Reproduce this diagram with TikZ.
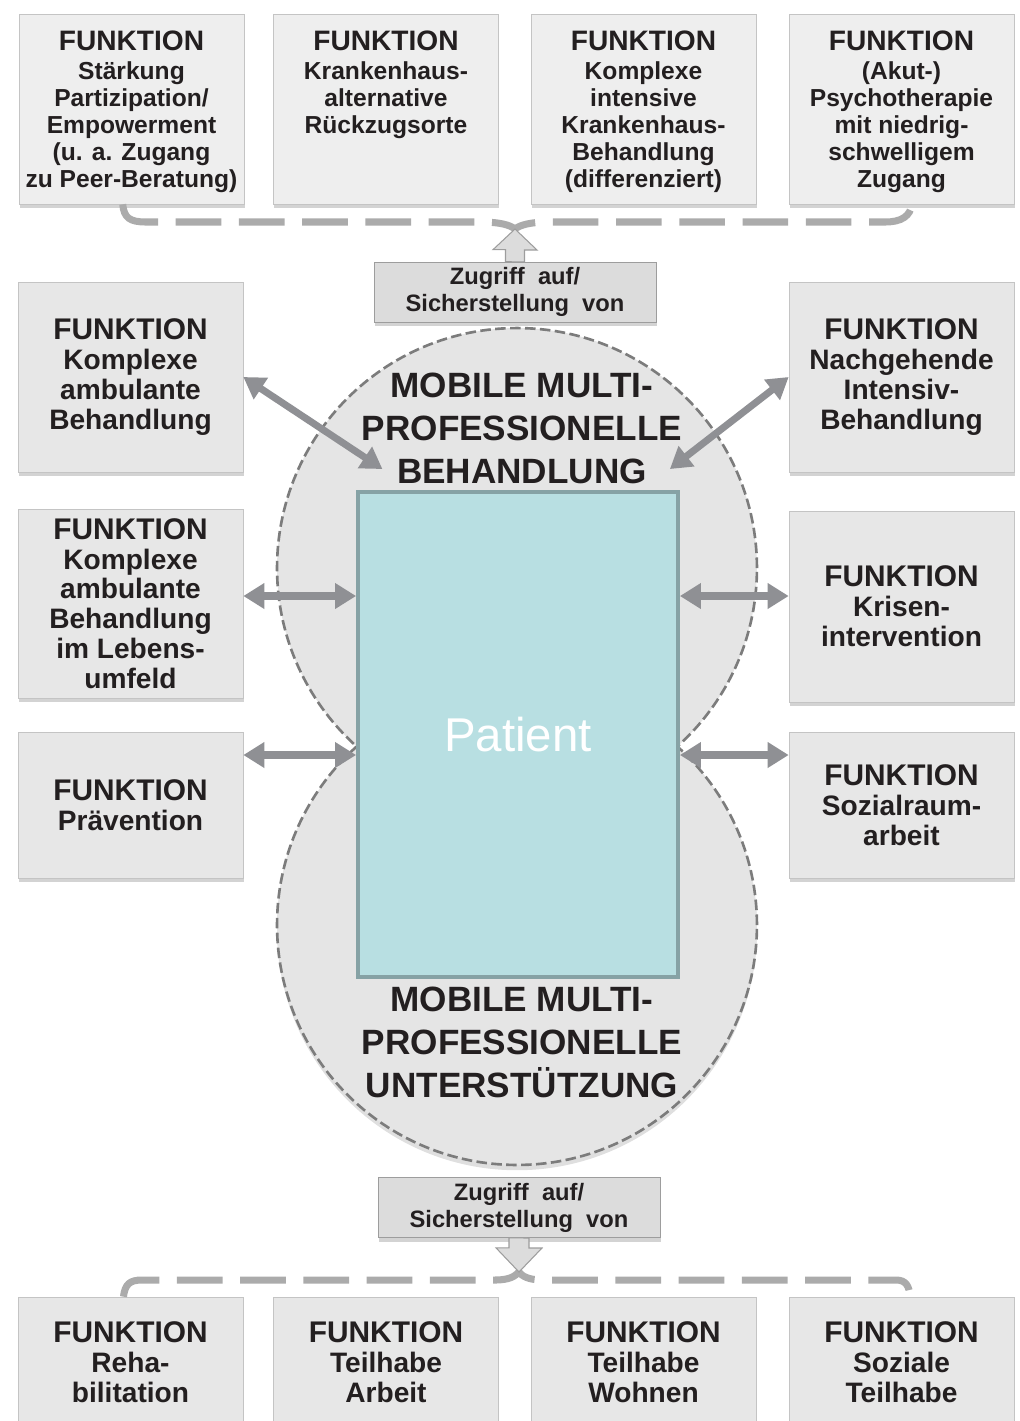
\documentclass[tikz,border=0pt]{standalone}
\usepackage{fontspec}
\setmainfont{Liberation Sans}
\usetikzlibrary{arrows.meta,shadows}

\definecolor{boxfill}{HTML}{E7E7E7}
\definecolor{topfill}{HTML}{EEEEEE}
\definecolor{boxedge}{HTML}{C4C4C4}
\definecolor{ringfill}{HTML}{E5E5E5}
\definecolor{ringedge}{HTML}{7C7C7C}
\definecolor{patientfill}{HTML}{B8DFE2}
\definecolor{patientedge}{HTML}{86A2A5}
\definecolor{linkgray}{HTML}{8F9094}
\definecolor{bracegray}{HTML}{ABABAB}
\definecolor{accessfill}{HTML}{DCDCDC}
\definecolor{ink}{HTML}{231F20}

\def\uppercircle{(517,568) circle (4.8cm)}
\def\lowercircle{(517,925) circle (4.8cm)}
\newcommand{\funkhead}[1][17]{{\fontsize{#1}{#1}\selectfont FUNKTION}}
\newcommand{\toptext}[1]{\parbox[c][3.12cm][t]{4.4cm}{\centering\funkhead[16]\\[1pt]#1}}

\tikzset{funk/.style={draw=boxedge, fill=boxfill, inner sep=0pt, minimum width=4.5cm,
        align=center, text=ink, font=\bfseries\fontsize{16}{17}\selectfont,
        drop shadow={shadow xshift=0.5pt, shadow yshift=-2.5pt, opacity=0.35}},
    topfunk/.style={funk, fill=topfill, minimum height=3.8cm,
        font=\bfseries\fontsize{14}{15.4}\selectfont},
    access/.style={funk, fill=accessfill, draw=boxedge!80!black, minimum width=5.64cm,
        minimum height=1.2cm, font=\bfseries\fontsize{13.5}{15.4}\selectfont},
    blockarrow/.style={fill=accessfill, draw=boxedge!80!black, line width=0.6pt},
    link/.style={draw=linkgray, line width=4pt,
        {Triangle[length=12pt,width=14pt]}-{Triangle[length=12pt,width=14pt]}},
    brace/.style={draw=bracegray, line width=4pt, dash pattern=on 26pt off 10pt},
    ring/.style={draw=ringedge, line width=1.5pt, dash pattern=on 6pt off 2.5pt},
    title/.style={align=center, text=ink, font=\bfseries\fontsize{20}{24.5}\selectfont}}

\begin{document}
\begin{tikzpicture}[x=0.02cm, y=-0.02cm]
    \useasboundingbox (0,0) rectangle (1019,1421);

    % upper row
    \node[topfunk] (t1) at (131.5,109) {\toptext{Stärkung\\Partizipation/\\Empowerment\\(u. a. Zugang\\zu Peer-Beratung)}};
    \node[topfunk] (t2) at (386,109) {\toptext{Krankenhaus-\\alternative\\Rückzugsorte}};
    \node[topfunk] (t3) at (643.5,109) {\toptext{Komplexe\\intensive\\Krankenhaus-\\Behandlung\\(differenziert)}};
    \node[topfunk] (t4) at (901.5,109) {\toptext{(Akut-)\\Psychotherapie\\mit niedrig-\\schwelligem\\Zugang}};

    \coordinate (uptip) at (515,229);
    \draw[brace] ([xshift=-5pt]t1.south) .. controls (124,218) and (130,222) .. (146,222)
        -- (480,222) .. controls (500,222) and (510,225) .. (uptip)
        .. controls (520,225) and (530,222) .. (550,222)
        -- (885,222) .. controls (902,222) and (910,216) .. ([xshift=6pt]t4.south);
    \node[access] (topaccess) at (515,292) {Zugriff\ \ auf/\\Sicherstellung\ \ von};
    \path[blockarrow] (topaccess.north) ++(-9.5,0) -- ++(0,-12) -- ++(-12.5,0) -- (uptip)
        -- ++(22,21) -- ++(-12.5,0) -- ++(0,12) -- cycle;

    % the two teams round the patient
    \fill[ringfill] \uppercircle;
    \fill[ringfill, drop shadow={shadow xshift=0pt, shadow yshift=-3pt, opacity=0.25}] \lowercircle;
    \draw[ring] \uppercircle \lowercircle;
    \node[draw=patientedge, line width=2.2pt, fill=patientfill, minimum width=6.4cm,
        minimum height=9.7cm, text=white, font=\fontsize{27}{27}\selectfont] (patient) at (518,734.5) {Patient};
    \node[title] (treat) at (522,428) {MOBILE MULTI-\\PROFESSIONELLE\\BEHANDLUNG};
    \node[title] (support) at (522,1042) {MOBILE MULTI-\\PROFESSIONELLE\\UNTERSTÜTZUNG};

    % side columns
    \node[funk, minimum height=3.8cm] (L1) at (130.5,377) {\funkhead\\Komplexe\\ambulante\\Behandlung};
    \node[funk, minimum height=3.78cm] (L2) at (130.5,603.5) {\funkhead\\Komplexe\\ambulante\\Behandlung\\im Lebens-\\umfeld};
    \node[funk, minimum height=2.92cm] (L3) at (130.5,805) {\funkhead\\Prävention};
    \node[funk, minimum height=3.8cm] (R1) at (901.5,377) {\funkhead\\Nachgehende\\Intensiv-\\Behandlung};
    \node[funk, minimum height=3.82cm] (R2) at (901.5,606.5) {\funkhead\\Krisen-\\intervention};
    \node[funk, minimum height=2.92cm] (R3) at (901.5,805) {\funkhead\\Sozialraum-\\arbeit};

    \draw[link] (L1.east) -- ([xshift=15pt,yshift=12pt]patient.north west);
    \draw[link] (R1.west) -- ([xshift=-5.7pt,yshift=12pt]patient.north east);
    \draw[link] (L2.east |- 0,596) -- (patient.west |- 0,596);
    \draw[link] (patient.east |- 0,596) -- (R2.west |- 0,596);
    \draw[link] (L3.east |- 0,755) -- (patient.west |- 0,755);
    \draw[link] (patient.east |- 0,755) -- (R3.west |- 0,755);

    % lower row
    \node[access] (lowaccess) at (519,1207.5) {Zugriff\ \ auf/\\Sicherstellung\ \ von};
    \coordinate (downtip) at (519,1272);
    \node[funk, minimum height=2.6cm] (b1) at (130.5,1362) {\funkhead\\Reha-\\bilitation};
    \node[funk, minimum height=2.6cm] (b2) at (386,1362) {\funkhead\\Teilhabe\\Arbeit};
    \node[funk, minimum height=2.6cm] (b3) at (643.5,1362) {\funkhead\\Teilhabe\\Wohnen};
    \node[funk, minimum height=2.6cm] (b4) at (901.5,1362) {\funkhead\\Soziale\\Teilhabe};
    \draw[brace] ([xshift=-4pt]b1.north) .. controls (125,1284) and (130,1280) .. (142,1280)
        -- (495,1280) .. controls (510,1280) and (515,1276) .. (downtip)
        .. controls (522,1276) and (528,1280) .. (543,1280)
        -- (896,1280) .. controls (906,1280) and (909,1286) .. ([xshift=5pt]b4.north);
    \path[blockarrow] (lowaccess.south) ++(-10,0) -- ++(0,10) -- ++(-13,0) -- (downtip)
        -- ++(23,-24) -- ++(-13,0) -- ++(0,-10) -- cycle;
\end{tikzpicture}
\end{document}
